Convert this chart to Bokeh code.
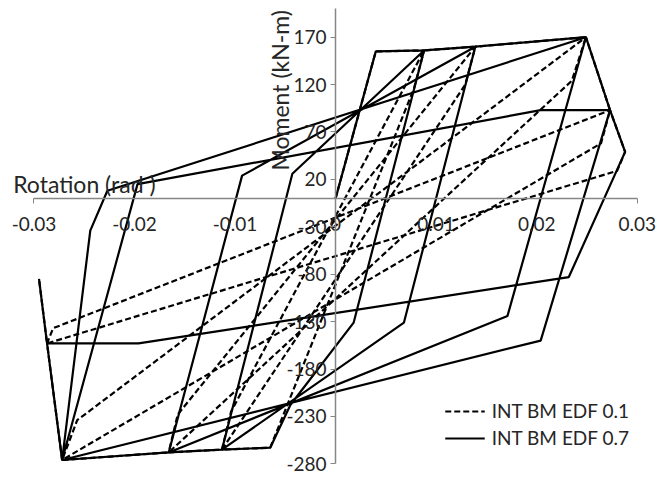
import math
from bokeh.plotting import figure
from bokeh.models import (Range1d, LinearAxis, FixedTicker, Label, Legend, LegendItem,
                          ColumnDataSource)
from bokeh.embed import file_html
from bokeh.resources import INLINE

# ---------------- data (rotation in rad, moment in kN-m) ----------------
# INT BM EDF 0.7 (solid)
edf07_rot = [0.0000, 0.0040, 0.0088, 0.0018, -0.0045, -0.0065, -0.0113, -0.0043, 0.0088, 0.0139,
             0.0068, -0.0113, -0.0166, -0.0093, 0.0139, 0.0249, 0.0171, -0.0166, -0.0272, -0.0244,
             -0.0227, 0.0249, 0.0273, 0.0204, -0.0272, -0.0197, 0.0204, 0.0273, 0.0288, 0.0232,
             -0.0196, -0.0287, -0.0295, float("nan"), -0.0272, -0.0287]
edf07_mom = [0, 155, 156, -131, -218, -263, -265, 26, 156, 160,
             -131, -265, -268, 24, 160, 170, -124, -268, -276, -34,
             8, 170, 93, -150, -276, 15, 93, 93, 49, -83,
             -153, -153, -85, float("nan"), -276, -153]

# INT BM EDF 0.1 (dashed)
edf01_rot = [0.0000, 0.0040, 0.0088, 0.0078, -0.0065, -0.0113, -0.0104, 0.0088, 0.0139, 0.0129,
             -0.0113, -0.0166, -0.0157, 0.0139, 0.0249, 0.0235, -0.0166, -0.0272, -0.0257, 0.0249,
             0.0273, 0.0264, -0.0272, -0.0287, -0.0281, 0.0273, 0.0288, 0.0280, -0.0287, -0.0295]
edf01_mom = [0, 155, 156, 116, -263, -265, -225, 156, 160, 120,
             -265, -268, -228, 160, 170, 124, -268, -276, -234, 170,
             93, 58, -276, -153, -137, 93, 49, 29, -153, -85]

x_ticks = [-0.03, -0.02, -0.01, 0.0, 0.01, 0.02, 0.03]
x_tick_labels = ["-0.03", "-0.02", "-0.01", "0", "0.01", "0.02", "0.03"]
y_ticks = [170, 120, 70, 20, -30, -80, -130, -180, -230, -280]
y_tick_labels = ["170", "120", "70", "20", "-30", "-80", "-130", "-180", "-230", "-280"]

x_title = "Rotation (rad )"
y_title = "Moment (kN-m)"
series_names = ["INT BM EDF 0.1", "INT BM EDF 0.7"]

FONT = "Lato"
TXT = "#262626"
AX = "#868686"

p = figure(width=658, height=478, output_backend="svg", toolbar_location=None,
           x_range=Range1d(-0.03333, 0.03212), y_range=Range1d(-295.5, 208.7),
           x_axis_location=None, y_axis_location=None, min_border=0)
p.outline_line_color = None
p.background_fill_color = "white"
p.border_fill_color = "white"
p.grid.grid_line_color = None

# axes crossing at the origin
xax = LinearAxis(fixed_location=0, bounds=(-0.03, 0.03),
                 ticker=FixedTicker(ticks=x_ticks, minor_ticks=[-0.03, 0.03]))
xax.major_label_overrides = {t: s for t, s in zip(x_ticks, x_tick_labels)}
xax.axis_line_color = AX
xax.axis_line_width = 1.5
xax.major_tick_out = 0
xax.major_tick_in = 0
xax.minor_tick_out = 5
xax.minor_tick_in = 0
xax.minor_tick_line_color = AX
xax.major_label_standoff = 14
xax.major_label_text_font = FONT
xax.major_label_text_font_size = "19px"
xax.major_label_text_color = TXT
p.add_layout(xax, "below")

yax = LinearAxis(fixed_location=0, bounds=(-280, 200),
                 ticker=FixedTicker(ticks=y_ticks, minor_ticks=[]))
yax.major_label_overrides = {t: s for t, s in zip(y_ticks, y_tick_labels)}
yax.axis_line_color = AX
yax.axis_line_width = 1.5
yax.major_tick_line_color = AX
yax.major_tick_out = 5
yax.major_tick_in = 0
yax.major_label_standoff = 4
yax.major_label_text_font = FONT
yax.major_label_text_font_size = "19px"
yax.major_label_text_color = TXT
p.add_layout(yax, "left")

src01 = ColumnDataSource(dict(x=edf01_rot, y=edf01_mom))
src07 = ColumnDataSource(dict(x=edf07_rot, y=edf07_mom))
r01 = p.line("x", "y", source=src01, line_color="black", line_width=2.2, line_dash="6 3")
r07 = p.line("x", "y", source=src07, line_color="black", line_width=2.2)

p.add_layout(Label(x=-0.03207, y=15.4, text=x_title, text_font=FONT, text_font_size="23px",
                   text_color=TXT, text_baseline="alphabetic", text_align="left"))
p.add_layout(Label(x=-0.00548, y=29.4, text=y_title, text_font=FONT, text_font_size="23px",
                   text_color=TXT, text_baseline="alphabetic", text_align="left",
                   angle=math.pi / 2))

legend = Legend(items=[LegendItem(label=series_names[0], renderers=[r01]),
                       LegendItem(label=series_names[1], renderers=[r07])],
                location="bottom_right", margin=29, padding=0, spacing=4,
                glyph_width=40, glyph_height=20, label_height=20, label_standoff=7,
                label_text_font=FONT, label_text_font_size="19px", label_text_color=TXT,
                border_line_alpha=0, background_fill_alpha=0)
p.add_layout(legend)

open("out.html", "w").write(file_html(p, INLINE))
